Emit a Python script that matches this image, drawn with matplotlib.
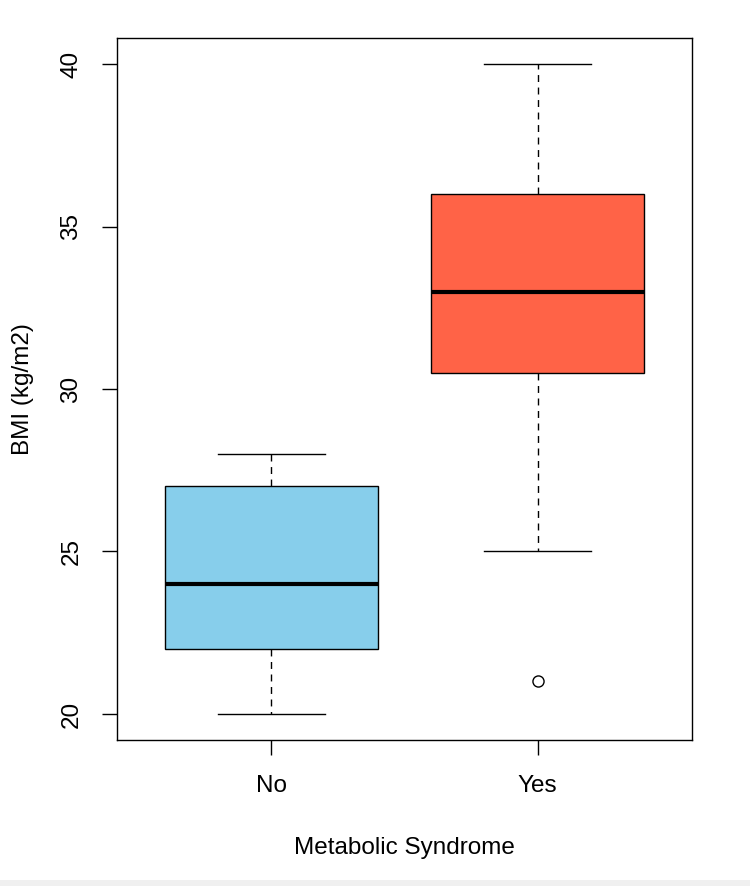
import matplotlib
matplotlib.use("Agg")
import matplotlib.pyplot as plt
from matplotlib.patches import Rectangle

plt.rcParams['font.family'] = ['Liberation Sans', 'DejaVu Sans']

# box stats
groups = ["No", "Yes"]
whisker_lo = [20, 25]
q1 = [22, 30.5]
medians = [24, 33]
q3 = [27, 36]
whisker_hi = [28, 40]
outliers = [[], [21]]
box_colors = ["#87CEEB", "#FF6347"]

stats = []
for i, g in enumerate(groups):
    stats.append(dict(label=g, whislo=whisker_lo[i], q1=q1[i], med=medians[i],
                      q3=q3[i], whishi=whisker_hi[i], fliers=outliers[i]))

fig = plt.figure(figsize=(7.5, 8.86), dpi=100)
ax = fig.add_axes([0.156, 0.1648, 0.7667, 0.7923])

bp = ax.bxp(stats, positions=[1, 2], widths=0.8, capwidths=0.4,
            patch_artist=True, showfliers=True,
            boxprops=dict(edgecolor="black", linewidth=1.0),
            medianprops=dict(color="black", linewidth=3.0, solid_capstyle="butt"),
            whiskerprops=dict(color="black", linewidth=1.0, linestyle=(0, (5, 4))),
            capprops=dict(color="black", linewidth=1.0),
            flierprops=dict(marker="o", markersize=8, markerfacecolor="none",
                            markeredgecolor="black", markeredgewidth=1.0))
for patch, c in zip(bp["boxes"], box_colors):
    patch.set_facecolor(c)

ax.set_xlim(0.42, 2.58)
ax.set_ylim(19.2, 40.8)
ax.set_yticks([20, 25, 30, 35, 40])
ax.set_xticks([1, 2])
ax.set_xticklabels(groups)
ax.tick_params(axis="both", direction="out", length=11, width=1.0, labelsize=17.5, pad=14)
for lab in ax.get_yticklabels():
    lab.set_rotation(90)
    lab.set_va("center")
for s in ax.spines.values():
    s.set_linewidth(1.0)

ax.set_xlabel("Metabolic Syndrome", fontsize=17.5, labelpad=29)
ax.set_ylabel("BMI (kg/m2)", fontsize=17.5, labelpad=19)

fig.patches.append(Rectangle((0, 0), 1, 6 / 886, transform=fig.transFigure,
                             facecolor="#f0f0f0", edgecolor="none", zorder=-1))

fig.savefig("out.png", dpi=100)
